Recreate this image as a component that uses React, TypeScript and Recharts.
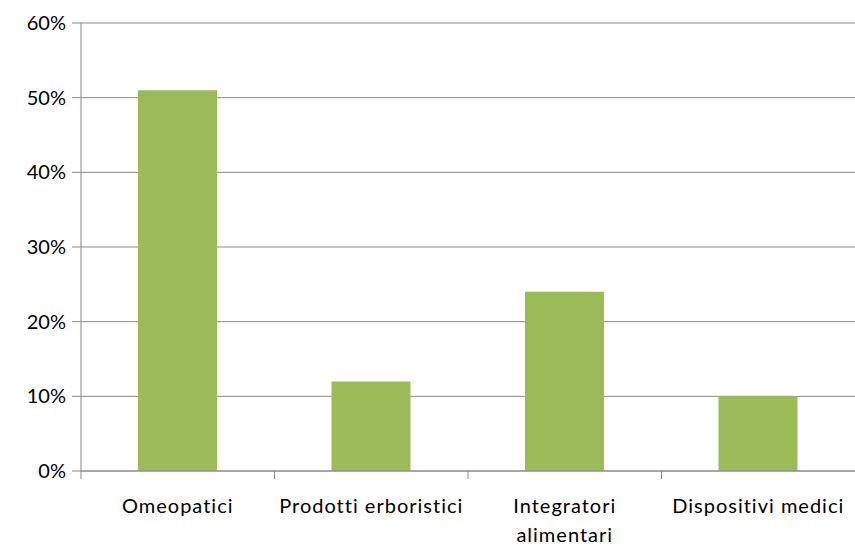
import { BarChart, Bar, XAxis, YAxis, CartesianGrid } from 'recharts'

const categories = ['Omeopatici', 'Prodotti erboristici', 'Integratori\nalimentari', 'Dispositivi medici']
const shares = [0.51, 0.12, 0.24, 0.1]
const yTicks = [0, 0.1, 0.2, 0.3, 0.4, 0.5, 0.6]

const data = categories.map((name, i) => ({ name, value: shares[i] }))

const FONT = 'Lato, "Open Sans", sans-serif'
const GRID = '#898989'

// draws the label plus a small tick at the left edge of each category band
function CategoryTick(props: any) {
  const { x, y, payload } = props
  const band = (855 - 81) / categories.length
  const lines = String(payload.value).split('\n')
  return (
    <g>
      <line x1={x - band / 2} x2={x - band / 2} y1={y - 8} y2={y} stroke={GRID} />
      <text
        x={x}
        y={y + 34}
        textAnchor="middle"
        fill="#000"
        fontSize={20}
        letterSpacing={1}
        fontFamily={FONT}
      >
        {lines.map((l, i) => (
          <tspan key={i} x={x} dy={i === 0 ? 0 : 29}>
            {l}
          </tspan>
        ))}
      </text>
    </g>
  )
}

export default function App() {
  return (
    <div style={{ position: 'absolute', left: 0, top: 0 }}>
      <BarChart
        width={855}
        height={549}
        data={data}
        margin={{ top: 23, right: 0, left: 0, bottom: 0 }}
      >
        <CartesianGrid vertical={false} stroke={GRID} />
        <XAxis
          dataKey="name"
          height={78}
          axisLine={{ stroke: GRID }}
          tickLine={false}
          tick={<CategoryTick />}
          interval={0}
        />
        <YAxis
          width={81}
          domain={[0, 0.6]}
          ticks={yTicks}
          tickFormatter={(v: number) => `${Math.round(v * 100)}%`}
          axisLine={{ stroke: GRID }}
          tickLine={{ stroke: GRID }}
          tickSize={9}
          tickMargin={6}
          tick={{ fill: '#000', fontSize: 20, fontFamily: FONT }}
        />
        <Bar dataKey="value" fill="#9BBB59" barSize={79} isAnimationActive={false} />
      </BarChart>
    </div>
  )
}
